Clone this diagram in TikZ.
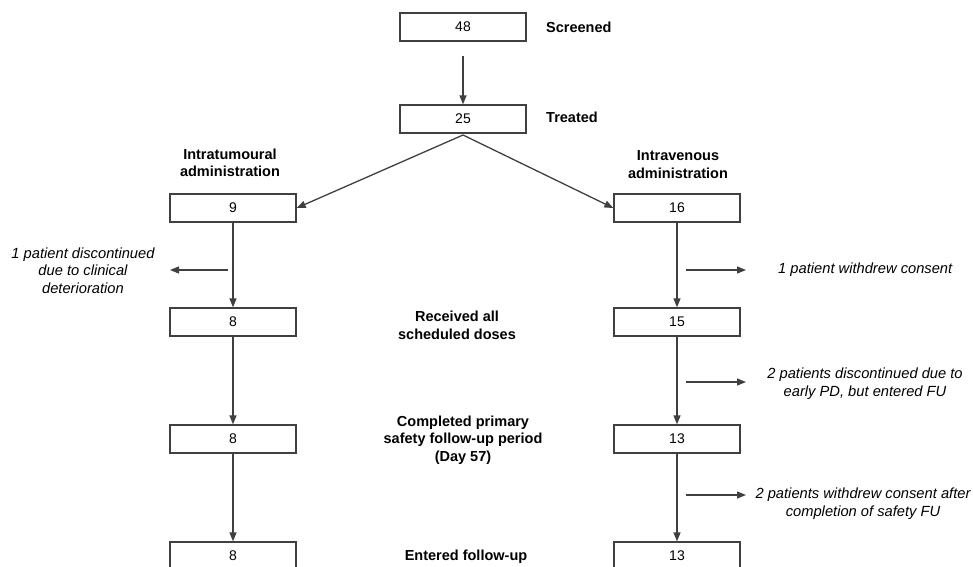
\documentclass[tikz,border=0pt]{standalone}
\usepackage{fontspec}
\setmainfont{Liberation Sans}
\usetikzlibrary{arrows.meta}
\definecolor{ln}{HTML}{404040}
\begin{document}
\begin{tikzpicture}[x=1pt,y=-1pt,
  box/.style={draw=ln,line width=1.3pt,minimum width=126pt,minimum height=28pt,inner sep=0pt,font=\fontsize{14}{16}\selectfont},
  lbl/.style={font=\fontsize{14.5}{17.5}\selectfont\bfseries,align=center,inner sep=0pt},
  note/.style={font=\fontsize{14.7}{17.5}\selectfont\itshape,align=center,inner sep=0pt},
  arr/.style={draw=ln,line width=1.3pt,-{Triangle[length=9pt,width=7pt]}},
  ln/.style={draw=ln,line width=1.3pt}]
\useasboundingbox (0,0) rectangle (973,566);
\clip (0,0) rectangle (973,566);
% boxes
\node[box] (s) at (463,27) {48};
\node[box] (t) at (463,119) {25};
\node[box] (a1) at (233,208) {9};
\node[box] (b1) at (677,208) {16};
\node[box] (a2) at (233,322) {8};
\node[box] (b2) at (677,322) {15};
\node[box] (a3) at (233,439) {8};
\node[box] (b3) at (677,439) {13};
\node[box] (a4) at (233,556) {8};
\node[box] (b4) at (677,556) {13};
% labels
\node[lbl,anchor=west] (ls) at (546,27) {Screened};
\node[lbl,anchor=west] (lt) at (546,117) {Treated};
\node[lbl] (la) at (230,163) {Intratumoural\\administration};
\node[lbl] (lb) at (678,164.5) {Intravenous\\administration};
\node[lbl] (l2) at (457,325.5) {Received all\\scheduled doses};
\node[lbl] (l3) at (463,440) {Completed primary\\safety follow-up period\\(Day 57)};
\node[lbl] (l4) at (466,557) {Entered follow-up};
% notes
\node[note] (n1) at (83,270.5) {1 patient discontinued\\due to clinical\\deterioration};
\node[note,anchor=west] (n2) at (778,270) {1 patient withdrew consent};
\node[note] (n3) at (865,383.5) {2 patients discontinued due to\\early PD, but entered FU};
\node[note] (n4) at (863,503.5) {2 patients withdrew consent after\\completion of safety FU};
% connectors
\coordinate (s0) at (463,56);
\draw[arr] (s0) -- (t.north);
\coordinate (apex) at (463,135);
\draw[arr] (apex) -- (a1.east);
\draw[arr] (apex) -- (b1.west);
\draw[arr] (a1.south) -- (a2.north);
\draw[arr] (a2.south) -- (a3.north);
\draw[arr] (a3.south) -- (a4.north);
\draw[arr] (b1.south) -- (b2.north);
\draw[arr] (b2.south) -- (b3.north);
\draw[arr] (b3.south) -- (b4.north);
\coordinate (p1) at (228,270); \coordinate (q1) at (170,270);
\draw[arr] (p1) -- (q1);
\coordinate (p2) at (686,270); \coordinate (q2) at (746,270);
\draw[arr] (p2) -- (q2);
\coordinate (p3) at (686,382); \coordinate (q3) at (746,382);
\draw[arr] (p3) -- (q3);
\coordinate (p4) at (686,495); \coordinate (q4) at (746,495);
\draw[arr] (p4) -- (q4);
\end{tikzpicture}
\end{document}
